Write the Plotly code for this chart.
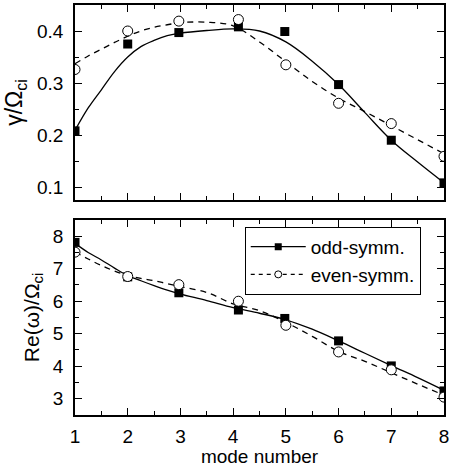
import plotly.graph_objects as go

# ---- data ----
# top panel: growth rate gamma/Omega_ci
odd_x = [1, 2, 2.97, 4.1, 4.98, 6, 7, 8]
odd_gamma = [0.208, 0.375, 0.397, 0.408, 0.399, 0.297, 0.190, 0.108]
even_x = [1, 2, 2.97, 4.1, 5, 6, 7, 8]
even_gamma = [0.326, 0.400, 0.419, 0.422, 0.335, 0.261, 0.222, 0.159]

fit_x = [1, 1.25, 1.5, 1.75, 2, 2.25, 2.5, 2.75, 3, 3.5, 4, 4.5, 5, 5.5, 6, 6.5, 7, 7.5, 8]
odd_gamma_fit = [0.209, 0.252, 0.287, 0.322, 0.350, 0.370, 0.382, 0.391, 0.396, 0.401, 0.404, 0.400, 0.379, 0.342, 0.297, 0.243, 0.190, 0.148, 0.108]
even_gamma_fit = [0.337, 0.352, 0.365, 0.378, 0.390, 0.400, 0.407, 0.412, 0.416, 0.417, 0.410, 0.379, 0.341, 0.303, 0.271, 0.245, 0.218, 0.191, 0.164]

# bottom panel: real frequency Re(omega)/Omega_ci
odd_re = [7.81, 6.75, 6.26, 5.73, 5.47, 4.78, 4.01, 3.24]
even_re = [7.51, 6.76, 6.51, 6.00, 5.26, 4.44, 3.89, 3.05]
odd_re_fit = [7.78, 7.50, 7.27, 7.02, 6.79, 6.63, 6.48, 6.34, 6.22, 6.02, 5.80, 5.63, 5.43, 5.14, 4.78, 4.40, 4.02, 3.65, 3.26]
even_re_fit = [7.51, 7.30, 7.10, 6.93, 6.79, 6.70, 6.63, 6.54, 6.45, 6.27, 5.92, 5.71, 5.35, 4.92, 4.46, 4.15, 3.80, 3.45, 3.11]

x_ticks = [1, 2, 3, 4, 5, 6, 7, 8]
series_names = ["odd-symm.", "even-symm."]

fig = go.Figure()
LW = 1.3
FONT = "Liberation Sans, Arial, sans-serif"

# top panel curves
fig.add_trace(go.Scatter(x=fit_x, y=odd_gamma_fit, mode="lines", line=dict(color="black", width=LW, shape="spline"),
                         showlegend=False, xaxis="x", yaxis="y"))
fig.add_trace(go.Scatter(x=fit_x, y=even_gamma_fit, mode="lines", line=dict(color="black", width=LW, dash="6px,5px", shape="spline"),
                         showlegend=False, xaxis="x", yaxis="y"))
fig.add_trace(go.Scatter(x=odd_x, y=odd_gamma, mode="markers", marker=dict(symbol="square", size=9, color="black"),
                         showlegend=False, xaxis="x", yaxis="y"))
fig.add_trace(go.Scatter(x=even_x, y=even_gamma, mode="markers",
                         marker=dict(symbol="circle", size=10, color="white", line=dict(color="black", width=1)),
                         showlegend=False, xaxis="x", yaxis="y"))

# bottom panel curves
fig.add_trace(go.Scatter(x=fit_x, y=odd_re_fit, mode="lines", line=dict(color="black", width=LW, shape="spline"),
                         showlegend=False, xaxis="x2", yaxis="y2"))
fig.add_trace(go.Scatter(x=fit_x, y=even_re_fit, mode="lines", line=dict(color="black", width=LW, dash="6px,5px", shape="spline"),
                         showlegend=False, xaxis="x2", yaxis="y2"))
fig.add_trace(go.Scatter(x=odd_x, y=odd_re, mode="markers", marker=dict(symbol="square", size=9, color="black"),
                         showlegend=False, xaxis="x2", yaxis="y2"))
fig.add_trace(go.Scatter(x=even_x, y=even_re, mode="markers",
                         marker=dict(symbol="circle", size=10, color="white", line=dict(color="black", width=1)),
                         showlegend=False, xaxis="x2", yaxis="y2"))

# legend entries
fig.add_trace(go.Scatter(x=[None], y=[None], mode="lines+markers", name=series_names[0],
                         line=dict(color="black", width=LW), marker=dict(symbol="square", size=7, color="black"),
                         xaxis="x2", yaxis="y2"))
fig.add_trace(go.Scatter(x=[None], y=[None], mode="lines+markers", name=series_names[1],
                         line=dict(color="black", width=LW, dash="4px,4px"),
                         marker=dict(symbol="circle", size=7, color="white", line=dict(color="black", width=1)),
                         xaxis="x2", yaxis="y2"))

common_x = dict(range=[1, 8], tickvals=x_ticks, ticks="inside", ticklen=7, tickwidth=1, tickcolor="black",
                showline=True, linecolor="black", linewidth=1.5, mirror="ticks", showgrid=False, zeroline=False,
                minor=dict(dtick=0.5, tick0=1, ticks="inside", ticklen=4, tickcolor="black", showgrid=False))
common_y = dict(ticks="inside", ticklen=7, tickwidth=1, tickcolor="black",
                showline=True, linecolor="black", linewidth=1.5, mirror="ticks", showgrid=False, zeroline=False,
                tickfont=dict(size=19, color="black", family=FONT), ticklabelstandoff=6)

fig.update_layout(
    width=452, height=467,
    margin=dict(l=75, r=3, t=3, b=52),
    plot_bgcolor="white", paper_bgcolor="white",
    font=dict(family=FONT, size=19, color="black"),
    xaxis=dict(**common_x, domain=[0, 1], anchor="y", showticklabels=False),
    yaxis=dict(**common_y, domain=[0.5243, 1], anchor="x", range=[0.075, 0.45],
               tickvals=[0.1, 0.2, 0.3, 0.4], ticktext=["0.1", "0.2", "0.3", "0.4"],
               minor=dict(dtick=0.05, tick0=0.1, ticks="inside", ticklen=4, tickcolor="black", showgrid=False),
               title=dict(text="γ/Ω<sub>ci</sub>", font=dict(size=23), standoff=8)),
    xaxis2=dict(**common_x, domain=[0, 1], anchor="y2", showticklabels=True,
                tickfont=dict(size=19, color="black", family=FONT), ticklabelstandoff=3,
                ticklabeloverflow="allow",
                title=dict(text="mode number", font=dict(size=19), standoff=0)),
    yaxis2=dict(**common_y, domain=[0, 0.4757], anchor="x2", range=[2.5, 8.5],
                tickvals=[3, 4, 5, 6, 7, 8],
                minor=dict(dtick=0.5, tick0=3, ticks="inside", ticklen=4, tickcolor="black", showgrid=False),
                title=dict(text="Re(ω)/Ω<sub>ci</sub>", font=dict(size=21), standoff=8)),
    legend=dict(x=0.46, y=0.459, xanchor="left", yanchor="top", bgcolor="white",
                bordercolor="black", borderwidth=1, font=dict(size=19, family=FONT),
                itemwidth=55, tracegroupgap=0),
)

fig.write_html("out.html")
